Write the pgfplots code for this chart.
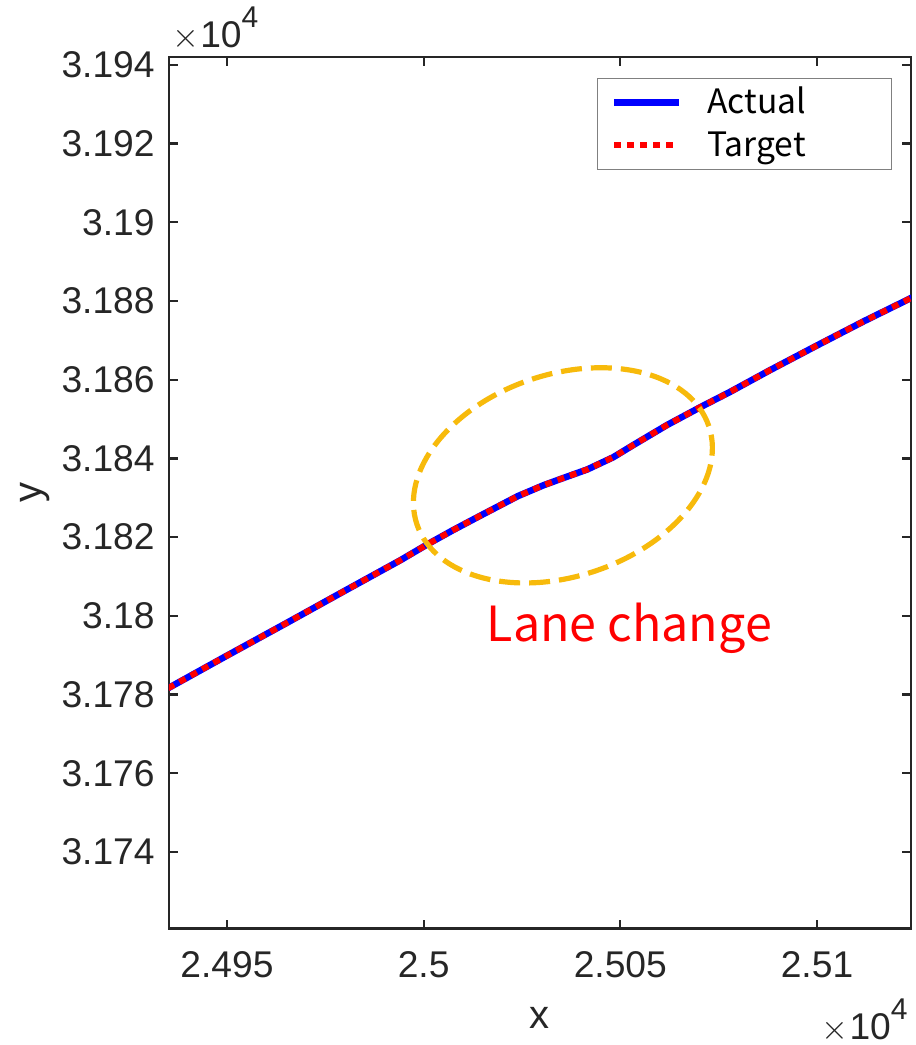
\documentclass[border=0pt]{standalone}
\usepackage{pgfplots}
\pgfplotsset{compat=1.18}
\usepackage{fontspec}
\setmainfont{Liberation Sans}
\newfontfamily\jpfont{Noto Sans CJK JP}

\definecolor{axgray}{HTML}{262626}
\definecolor{ringcol}{HTML}{F7BA0B}

% vehicle path (x, y) in metres
\pgfplotstableread{
x y
24935.0 31781.6
24950.0 31789.9
24965.0 31798.1
24980.0 31806.4
24994.2 31814.2
25001.0 31818.2
25007.5 31821.8
25014.5 31825.5
25023.9 31830.4
25030.5 31833.2
25036.0 31835.2
25041.6 31837.2
25048.2 31840.3
25053.3 31843.4
25061.9 31848.5
25070.3 31853.0
25077.9 31856.9
25088.0 31862.4
25100.0 31868.7
25112.0 31874.9
25124.2 31880.9
}\pathtable

% exponent label of the axes
\newcommand{\expolabel}{\ensuremath{\times}\kern0.5pt10\raisebox{10pt}{\fontsize{15}{15}\selectfont 4}}

\begin{document}
\begin{tikzpicture}
\useasboundingbox (-84.5pt,-58.25pt) rectangle (373.5pt,464.25pt);
\begin{axis}[
  scale only axis,
  width=371pt, height=435.75pt,
  xmin=24935.25, xmax=25123.9,
  ymin=31720.56, ymax=31942.0,
  scaled ticks=false,
  xtick={24950,25000,25050,25100},
  xticklabels={2.495,2.5,2.505,2.51},
  ytick={31740,31760,31780,31800,31820,31840,31860,31880,31900,31920,31940},
  yticklabels={3.174,3.176,3.178,3.18,3.182,3.184,3.186,3.188,3.19,3.192,3.194},
  tick align=inside,
  major tick length=4.5pt,
  axis line style={axgray, line width=1.15pt},
  every tick/.style={axgray, line width=1.15pt},
  tick label style={font=\fontsize{18.6}{20}\selectfont, text=axgray},
  xticklabel style={anchor=north, inner sep=0pt, yshift=-11.5pt},
  yticklabel style={anchor=east, inner sep=0pt, xshift=-7pt},
  xlabel={x}, ylabel={y},
  label style={font=\fontsize{20}{22}\selectfont, text=axgray},
  xlabel style={at={(axis description cs:0.5,-0.1142)}, anchor=base},
  ylabel style={at={(axis description cs:-0.1712,0.5)}, anchor=base, rotate=0},
  clip=true,
  legend style={
    at={(0.9744,0.9759)}, anchor=north east,
    draw=black!50, line width=0.5pt, fill=white,
    inner xsep=6.5pt, inner ysep=6.25pt,
    column sep=12.5pt, row sep=10pt,
    font=\jpfont\fontsize{16.8}{17}\selectfont,
    nodes={inner sep=0pt, text height=11.5pt, text depth=0pt, text width=85.5pt, anchor=west},
  },
  legend cell align=left,
  legend image code/.code={\draw[#1] (0pt,0pt) -- (32.5pt,0pt);},
]
\addplot[blue, line width=3.3pt] table[x=x, y=y] {\pathtable};
\addlegendentry{Actual}
\addplot[red, line width=3pt, dash pattern=on 3.5pt off 3pt] table[x=x, y=y] {\pathtable};
\addlegendentry{Target}

\coordinate (ring) at (axis cs:25035.4,31835.7);
\node[anchor=base, text=red, font=\jpfont\fontsize{24.2}{25}\selectfont, inner sep=0pt]
  at (axis cs:25052.3,31793.4) {Lane change};
\coordinate (tl) at (rel axis cs:0,1);
\coordinate (br) at (rel axis cs:1,0);
\end{axis}
\draw[ringcol, line width=2.6pt, dash pattern=on 10.5pt off 4.5pt] (ring) ellipse [x radius=77pt, y radius=50.5pt, rotate=18.6];
\node[anchor=base west, inner sep=0pt, text=axgray, font=\fontsize{18.6}{20}\selectfont]
  at ([xshift=1.5pt, yshift=4.5pt]tl) {\expolabel};
\node[anchor=base east, inner sep=0pt, text=axgray, font=\fontsize{18.6}{20}\selectfont]
  at ([xshift=-1.5pt, yshift=-55.5pt]br) {\expolabel};
\end{tikzpicture}
\end{document}
